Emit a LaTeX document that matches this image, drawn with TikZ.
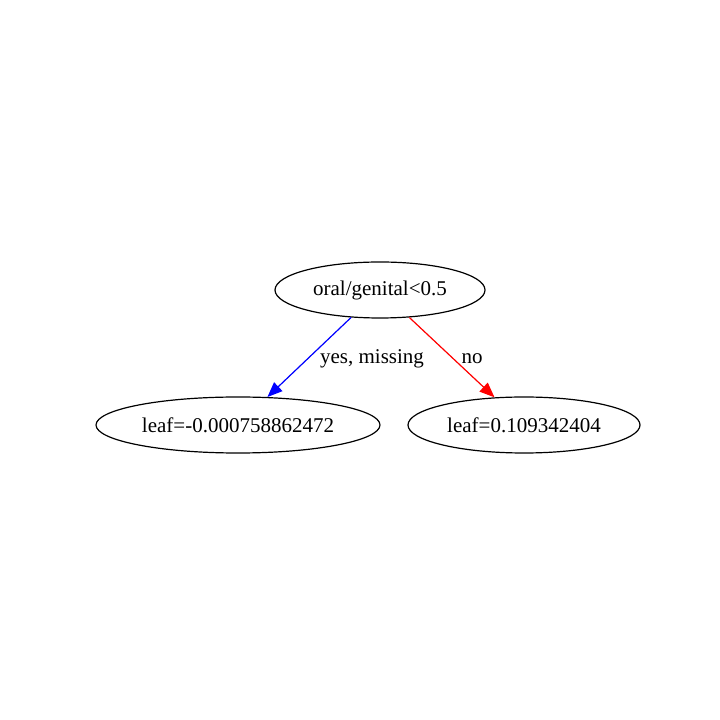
\documentclass[tikz,border=0pt]{standalone}
\usepackage{fontspec}
\setmainfont{Liberation Serif}
\usetikzlibrary{shapes.geometric,arrows.meta}
\begin{document}
\begin{tikzpicture}[x=1pt,y=1pt,
  treenode/.style={ellipse,draw,line width=1.2pt,inner sep=0pt,minimum height=56pt,font=\fontsize{21}{24}\selectfont},
  edgelabel/.style={font=\fontsize{21}{24}\selectfont,inner sep=0pt},
  yesedge/.style={draw=blue,line width=1.2pt,-{Triangle[length=15pt,width=12pt]},fill=blue},
  noedge/.style={draw=red,line width=1.2pt,-{Triangle[length=15pt,width=12pt]},fill=red}]
\useasboundingbox (0,0) rectangle (720,720);
\node[treenode,minimum width=210pt] (root) at (380,430) {oral/genital<0.5};
\node[treenode,minimum width=284pt] (left) at (238,295) {leaf=-0.000758862472};
\node[treenode,minimum width=232pt] (right) at (524,295) {leaf=0.109342404};
\draw[yesedge] (root) -- (left);
\draw[noedge] (root) -- (right);
\node[edgelabel] (lyes) at (372,361) {yes, missing};
\node[edgelabel] (lno) at (472,361) {no};
\end{tikzpicture}
\end{document}
